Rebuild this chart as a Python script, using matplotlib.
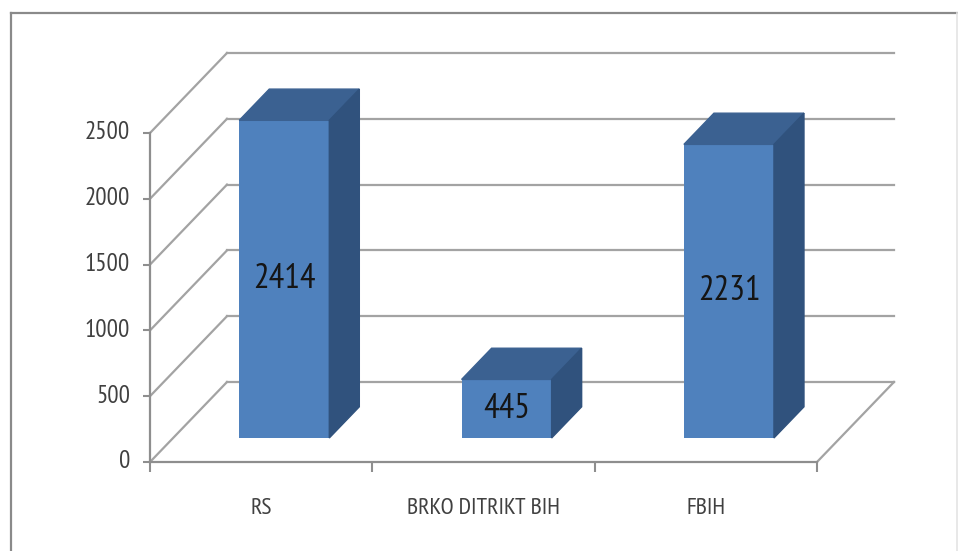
import numpy as np
import matplotlib
matplotlib.use('Agg')
from matplotlib import pyplot as plt
from matplotlib.lines import Line2D
from matplotlib.patches import Polygon
from matplotlib.markers import TICKLEFT, TICKDOWN

categories = ['RS', 'BRKO DITRIKT BIH', 'FBIH']
values = [2414, 445, 2231]
y_ticks = [0, 500, 1000, 1500, 2000, 2500]

font = ['PT Sans Narrow', 'Carlito', 'DejaVu Sans']
c_front = '#4F81BD'
c_top = '#3B6191'
c_side = '#30527D'
c_grid = '#A3A3A3'
c_axis = '#8E8E8E'

# oblique depth of the floor and of the bars, in data units
DX, DY = 0.3463, 608.0
bar_pos = 0.30
bar_depth = 0.39
bar_w = 0.405

fig = plt.figure(figsize=(9.58, 5.51), dpi=100)
ax = fig.add_axes([0, 0, 1, 1])
ax.set_xlim(-0.6747, 3.6342)
ax.set_ylim(-676.3, 3510.6)
ax.axis('off')

n = len(categories)
for t in y_ticks:
    ax.plot([DX, n + DX], [t + DY, t + DY], color=c_grid, lw=1.6, zorder=1)
    ax.plot([0, DX], [t, t + DY], color=c_grid, lw=1.6, zorder=1)
ax.plot([n, n + DX], [0, DY], color=c_grid, lw=1.6, zorder=1)
ax.plot([0, n], [0, 0], color=c_axis, lw=1.6, zorder=2)
ax.plot([0, 0], [0, y_ticks[-1]], color=c_axis, lw=1.6, zorder=2)
ax.plot(np.zeros(len(y_ticks)), y_ticks, ls='none', marker=TICKLEFT,
        ms=5, mew=1.5, color=c_axis, zorder=2)
ax.plot(np.arange(n + 1), np.zeros(n + 1), ls='none', marker=TICKDOWN,
        ms=7, mew=1.5, color=c_axis, zorder=2)

for t in y_ticks:
    ax.annotate(str(t), xy=(0, t), xytext=(-14.4, 0), textcoords='offset points',
                ha='right', va='center', fontsize=18, color='#404040', family=font)

ox, oy = bar_pos * DX, bar_pos * DY
bx, by = bar_depth * DX, bar_depth * DY
xc = np.arange(n) + 0.5 + ox
ax.bar(xc, values, width=bar_w, bottom=oy, color=c_front, zorder=3)
for x, v, cat in zip(xc, values, categories):
    x0, x1 = x - bar_w / 2, x + bar_w / 2
    top = oy + v
    ax.add_patch(Polygon([(x0, top), (x1, top), (x1 + bx, top + by), (x0 + bx, top + by)],
                         closed=True, color=c_top, zorder=3))
    ax.add_patch(Polygon([(x1, oy), (x1, top), (x1 + bx, top + by), (x1 + bx, oy + by)],
                         closed=True, color=c_side, zorder=3))
    ax.text(x, oy + v / 2, str(v), ha='center', va='center', fontsize=25,
            color='#151515', family=font, zorder=4)
    ax.annotate(cat, xy=(x - ox, 0), xytext=(0, -33.8), textcoords='offset points',
                ha='center', va='center', fontsize=17, color='#404040', family=font)

# chart frame: only left and top edges show, right one is very faint
L, T, R = 11 / 958, 1 - 13 / 551, 957 / 958
fig.add_artist(Line2D([L, L], [0, T], color='#8A8A8A', lw=1.6))
fig.add_artist(Line2D([L, 1], [T, T], color='#8A8A8A', lw=1.6))
fig.add_artist(Line2D([R, R], [0, T], color='#E4E4E4', lw=1.2))

plt.savefig('out.png', dpi=100)
